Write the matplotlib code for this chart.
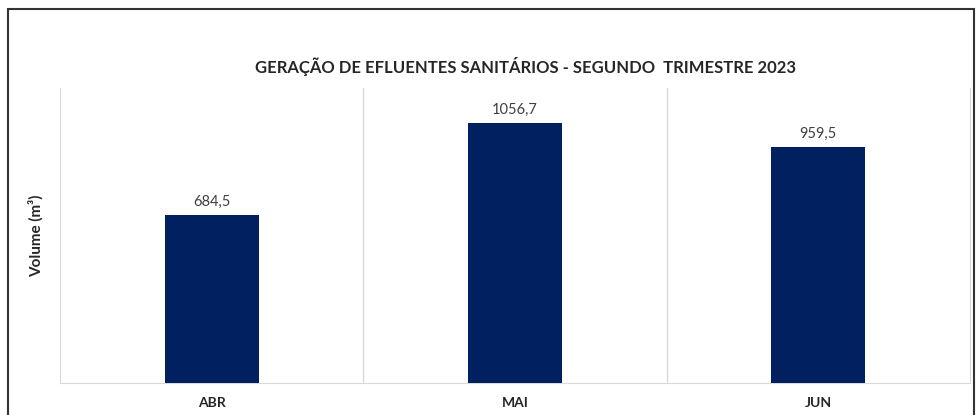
import matplotlib.pyplot as plt
from matplotlib.patches import Rectangle

# Dados: geração de efluentes sanitários (m³)
meses = ["ABR", "MAI", "JUN"]
volumes = [684.5, 1056.7, 959.5]
rotulos = ["684,5", "1056,7", "959,5"]

plt.rcParams['font.family'] = ['Lato', 'DejaVu Sans']

fig = plt.figure(figsize=(9.77, 4.15), dpi=100)
ax = fig.add_axes([0.0614, 0.0771, 0.9314, 0.7109])

x = range(len(meses))
ax.bar(x, volumes, width=0.31, color="#002060", zorder=3)

# Rótulos de valor acima das barras
for i, v in enumerate(volumes):
    ax.text(i, v + 25, rotulos[i], ha="center", va="bottom", fontsize=10.5, color="#404040")

ax.set_xlim(-0.5, len(meses) - 0.5)
ax.set_ylim(0, 1200)
ax.set_xticks(list(x))
ax.set_xticklabels(meses, fontsize=10, fontweight="bold", color="#262626")
ax.tick_params(axis="x", length=0, pad=10)
ax.set_yticks([])

# Linhas separadoras entre categorias
for b in [0.5, 1.5]:
    ax.axvline(b, color="#d9d9d9", linewidth=1, zorder=1)
ax.spines["top"].set_visible(False)
for s in ["left", "right", "bottom"]:
    ax.spines[s].set_color("#d9d9d9")

ax.set_ylabel("Volume (m³)", fontsize=11, fontweight="bold", color="#262626", labelpad=12)
ax.set_title("GERAÇÃO DE EFLUENTES SANITÁRIOS - SEGUNDO  TRIMESTRE 2023",
             fontsize=12, fontweight="bold", color="#262626", pad=11, x=0.512)

# Moldura externa
fig.patches.append(Rectangle((8 / 977, -0.05), 966 / 977, 1.05 - 9 / 415,
                             transform=fig.transFigure, fill=False,
                             edgecolor="#333333", linewidth=1.5))

fig.savefig("out.png", dpi=100)
